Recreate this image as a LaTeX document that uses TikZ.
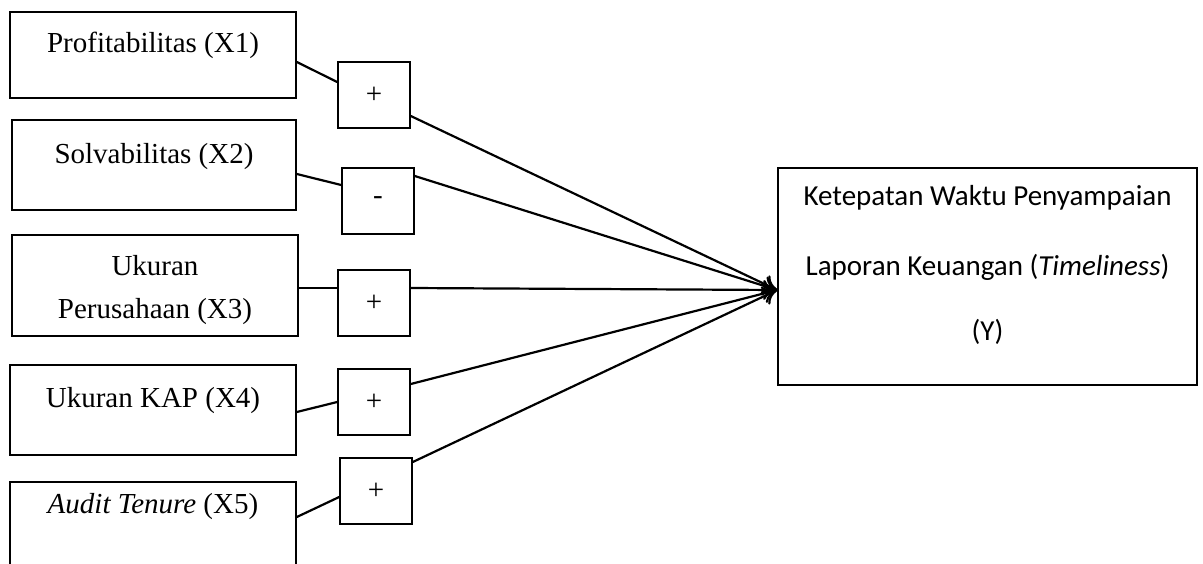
\documentclass[tikz,border=0pt]{standalone}
\usepackage{fontspec}
\setmainfont{Liberation Serif}
\newfontfamily\calib{Carlito}
\usetikzlibrary{arrows.meta}
\begin{document}
\begin{tikzpicture}[x=1pt,y=-1pt,
  varbox/.style={draw,line width=1.6pt,rectangle,inner sep=0pt},
  signbox/.style={draw,line width=1.6pt,rectangle,inner sep=0pt,minimum width=72pt,minimum height=66pt,font=\fontsize{29}{35}\selectfont},
  lbl/.style={anchor=base,inner sep=0pt,font=\fontsize{29}{45}\selectfont},
  conn/.style={line width=2.2pt},
  arr/.style={line width=2.2pt,-{To[length=14pt,width=20pt,line width=2.2pt]}}]
\useasboundingbox (0,0) rectangle (1203,563);
% left boxes
\node[varbox,minimum width=286pt,minimum height=86pt] (b1) at (153,55) {};
\node[varbox,minimum width=284pt,minimum height=90pt] (b2) at (154,165) {};
\node[varbox,minimum width=286pt,minimum height=101pt] (b3) at (155,285.5) {};
\node[varbox,minimum width=286pt,minimum height=90pt] (b4) at (153,410) {};
\node[varbox,minimum width=286pt,minimum height=118pt] (b5) at (153,541) {};
% labels
\node[lbl] (t1) at (153,52) {Profitabilitas (X1)};
\node[lbl] (t2) at (154,163) {Solvabilitas (X2)};
\node[lbl] (t3a) at (155,275) {Ukuran};
\node[lbl] (t3b) at (155,318) {Perusahaan (X3)};
\node[lbl] (t4) at (153,407) {Ukuran KAP (X4)};
\node[lbl] (t5) at (153,513) {\textit{Audit Tenure} (X5)};
% sign boxes
\node[signbox] (s1) at (374,95) {+};
\node[signbox] (s2) at (378,201) {-};
\node[signbox] (s3) at (374,303) {+};
\node[signbox] (s4) at (374,402) {+};
\node[signbox] (s5) at (376,491) {+};
% dependent box
\node[varbox,minimum width=419pt,minimum height=217pt] (y) at (987.5,276.5) {};
\node[lbl,font=\calib\fontsize{29}{35}\selectfont] (y1) at (987.5,205) {Ketepatan Waktu Penyampaian};
\node[lbl,font=\calib\fontsize{29}{35}\selectfont] (y2) at (987.5,275) {Laporan Keuangan (\textit{Timeliness})};
\node[lbl,font=\calib\fontsize{29}{35}\selectfont] (y3) at (987.5,340) {(Y)};
\coordinate (tip) at ([yshift=-13.5pt]y.west);
% connectors
\draw[conn] ([yshift=-7pt]b1.east) -- ([yshift=13pt]s1.west);
\draw[conn] ([yshift=-9pt]b2.east) -- ([yshift=16pt]s2.west);
\draw[conn] ([yshift=-2.5pt]b3.east) -- ([yshift=15pt]s3.west);
\draw[conn] ([yshift=-2pt]b4.east) -- (s4.west);
\draw[conn] ([yshift=24pt]b5.east) -- ([yshift=-6pt]s5.west);
\draw[arr] ([yshift=-21pt]s1.east) -- (tip);
\draw[arr] ([yshift=25pt]s2.east) -- (tip);
\draw[arr] ([yshift=15pt]s3.east) -- (tip);
\draw[arr] ([yshift=18pt]s4.east) -- (tip);
\draw[arr] ([yshift=29pt]s5.east) -- (tip);
\end{tikzpicture}
\end{document}
